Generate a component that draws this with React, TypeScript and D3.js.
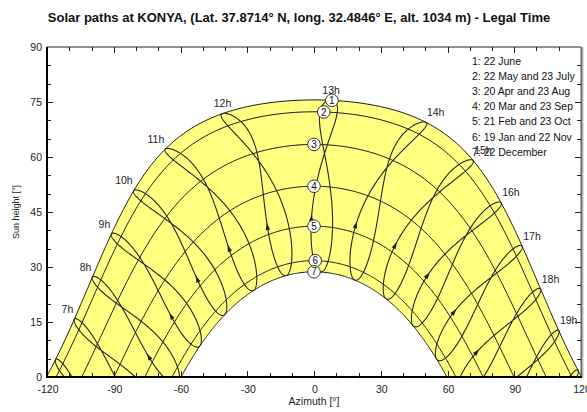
import { useRef, useEffect, useCallback } from 'react';
import * as d3 from 'd3';

// Site (from the title)
const SITE_LAT = 37.8714;
const SITE_LON = 32.4846;
const TIME_ZONE = 3; // legal time, UTC+3

const pathLabels = [
  '1: 22 June',
  '2: 22 May and 23 July',
  '3: 20 Apr and 23 Aug',
  '4: 20 Mar and 23 Sep',
  '5: 21 Feb and 23 Oct',
  '6: 19 Jan and 22 Nov',
  '7: 22 December',
];
// solar declination of each legend date pair [deg]
const pathDeclinations = [23.44, 20.2, 11.3, -0.1, -11.0, -20.4, -23.44];
// azimuth where the numbered marker sits on each path [deg]
const markerAzimuths = [7, 5, 0.6, 0.3, 0.1, 0.3, 0];

const hourLines = [6, 7, 8, 9, 10, 11, 12, 13, 14, 15, 16, 17, 18, 19, 20];
const hourLabels = [7, 8, 9, 10, 11, 12, 13, 14, 15, 16, 17, 18, 19];
const azimuthTicks = [-120, -90, -60, -30, 0, 30, 60, 90, 120];
const heightTicks = [0, 15, 30, 45, 60, 75, 90];

const JUNE_DAY = 173;
const ARROW_DAY = 58;

const WIDTH = 587;
const HEIGHT = 412;
const plot = { left: 47, right: 581, top: 47, bottom: 377 };
const FONT = "'Liberation Sans', Arial, sans-serif";

const rad = Math.PI / 180;

type Pt = [number, number];

function sunPosition(decl: number, hourAngle: number): Pt {
  const p = SITE_LAT * rad;
  const d = decl * rad;
  const hr = hourAngle * rad;
  const sinh = Math.sin(p) * Math.sin(d) + Math.cos(p) * Math.cos(d) * Math.cos(hr);
  const h = Math.asin(sinh) / rad;
  const az = Math.atan2(Math.sin(hr), Math.cos(hr) * Math.sin(p) - Math.tan(d) * Math.cos(p)) / rad;
  return [az, h];
}

// declination and equation of time for a day of year
function dayParams(doy: number) {
  const g = (2 * Math.PI / 365) * (doy - 1);
  const decl =
    (0.006918 - 0.399912 * Math.cos(g) + 0.070257 * Math.sin(g) - 0.006758 * Math.cos(2 * g) +
      0.000907 * Math.sin(2 * g) - 0.002697 * Math.cos(3 * g) + 0.00148 * Math.sin(3 * g)) / rad;
  const eot =
    229.18 * (0.000075 + 0.001868 * Math.cos(g) - 0.032077 * Math.sin(g) -
      0.014615 * Math.cos(2 * g) - 0.040849 * Math.sin(2 * g));
  return { decl, eot };
}

function sunAtLegalHour(doy: number, hour: number): Pt {
  const { decl, eot } = dayParams(doy);
  const solar = hour + (SITE_LON - 15 * TIME_ZONE) / 15 + eot / 60;
  return sunPosition(decl, 15 * (solar - 12));
}

function datePath(decl: number): Pt[] {
  const h0 = Math.acos(-Math.tan(SITE_LAT * rad) * Math.tan(decl * rad)) / rad;
  return d3.range(0, 301).map((i) => sunPosition(decl, -h0 + (2 * h0 * i) / 300));
}

export default function App() {
  const svgRef = useRef<SVGSVGElement>(null);

  const render = useCallback(() => {
    const svg = d3.select(svgRef.current);
    svg.selectAll('*').remove();

    const x = d3.scaleLinear().domain([-120, 120]).range([plot.left, plot.right]);
    const y = d3.scaleLinear().domain([0, 90]).range([plot.bottom, plot.top]);
    const line = d3.line<Pt>().x((d) => x(d[0])).y((d) => y(d[1]));

    svg.append('rect').attr('width', WIDTH).attr('height', HEIGHT).attr('fill', '#fff');

    svg.append('defs')
      .append('clipPath')
      .attr('id', 'plot-clip')
      .append('rect')
      .attr('x', plot.left)
      .attr('y', plot.top)
      .attr('width', plot.right - plot.left)
      .attr('height', plot.bottom - plot.top);

    const g = svg.append('g').attr('clip-path', 'url(#plot-clip)');

    const paths = pathDeclinations.map(datePath);

    // yellow band between June and December paths
    const band = [...paths[0], ...paths[paths.length - 1].slice().reverse()];
    g.append('path').attr('d', line(band) + 'Z').attr('fill', '#ffff80').attr('stroke', 'none');

    // date paths
    paths.forEach((pts) => {
      g.append('path')
        .attr('d', line(pts))
        .attr('fill', 'none')
        .attr('stroke', '#1a1a1a')
        .attr('stroke-width', 1);
    });

    // hour lines (analemmas, legal time)
    hourLines.forEach((hour) => {
      const pts = d3.range(1, 367).map((doy) => sunAtLegalHour(doy, hour));
      pts.push(pts[0]);
      g.append('path')
        .attr('d', line(pts))
        .attr('fill', 'none')
        .attr('stroke', '#262626')
        .attr('stroke-width', 1.1);

      const a = sunAtLegalHour(ARROW_DAY, hour);
      const b = sunAtLegalHour(ARROW_DAY + 1, hour);
      if (a[1] > 1 && a[0] > -118 && a[0] < 118) {
        const ax = x(a[0]), ay = y(a[1]);
        const ang = Math.atan2(y(b[1]) - ay, x(b[0]) - ax);
        const ux = Math.cos(ang), uy = Math.sin(ang);
        const tipX = ax + ux * 3, tipY = ay + uy * 3;
        const bx = tipX - ux * 7, by = tipY - uy * 7;
        g.append('path')
          .attr('d', `M${tipX},${tipY}L${bx - uy * 2.2},${by + ux * 2.2}L${bx + uy * 2.2},${by - ux * 2.2}Z`)
          .attr('fill', '#1a1a1a');
      }
    });

    // frame
    svg.append('line').attr('x1', plot.left).attr('x2', plot.right).attr('y1', plot.top).attr('y2', plot.top)
      .attr('stroke', '#222').attr('stroke-width', 1);
    svg.append('line').attr('x1', plot.right + 0.5).attr('x2', plot.right + 0.5).attr('y1', plot.top).attr('y2', plot.bottom)
      .attr('stroke', '#666').attr('stroke-width', 2);
    svg.append('line').attr('x1', plot.right + 2).attr('x2', plot.right + 2).attr('y1', plot.top + 1).attr('y2', plot.bottom + 1)
      .attr('stroke', '#bbb').attr('stroke-width', 1);
    svg.append('line').attr('x1', plot.left).attr('x2', plot.left).attr('y1', plot.top).attr('y2', plot.bottom + 1)
      .attr('stroke', '#000').attr('stroke-width', 2);
    svg.append('line').attr('x1', plot.left - 1).attr('x2', plot.right + 1).attr('y1', plot.bottom).attr('y2', plot.bottom)
      .attr('stroke', '#000').attr('stroke-width', 2);

    // ticks
    const ticks = svg.append('g').attr('stroke', '#222').attr('stroke-width', 1);
    d3.range(-110, 120, 10).forEach((v) => {
      const len = v % 30 === 0 ? 6 : 4;
      const px = Math.round(x(v)) + 0.5;
      ticks.append('line').attr('x1', px).attr('x2', px).attr('y1', plot.bottom).attr('y2', plot.bottom - len);
      ticks.append('line').attr('x1', px).attr('x2', px).attr('y1', plot.top).attr('y2', plot.top + len);
    });
    d3.range(5, 90, 5).forEach((v) => {
      const len = v % 15 === 0 ? 6 : 4;
      const py = Math.round(y(v)) + 0.5;
      ticks.append('line').attr('x1', plot.left).attr('x2', plot.left + len).attr('y1', py).attr('y2', py);
      ticks.append('line').attr('x1', plot.right).attr('x2', plot.right - len).attr('y1', py).attr('y2', py);
    });

    // tick labels
    azimuthTicks.forEach((v) => {
      svg.append('text')
        .attr('x', x(v) + 1)
        .attr('y', 393)
        .attr('text-anchor', 'middle')
        .attr('font-family', FONT)
        .attr('font-size', '10.5px')
        .attr('fill', '#222')
        .text(String(v));
    });
    heightTicks.forEach((v) => {
      svg.append('text')
        .attr('x', 42)
        .attr('y', y(v) + 3.8)
        .attr('text-anchor', 'end')
        .attr('font-family', FONT)
        .attr('font-size', '10.5px')
        .attr('fill', '#222')
        .text(String(v));
    });

    // axis titles
    svg.append('text')
      .attr('x', 314)
      .attr('y', 405)
      .attr('text-anchor', 'middle')
      .attr('font-family', FONT)
      .attr('font-size', '10.5px')
      .attr('fill', '#222')
      .text('Azimuth [°]');
    svg.append('text')
      .attr('transform', 'translate(19,212) rotate(-90)')
      .attr('text-anchor', 'middle')
      .attr('font-family', FONT)
      .attr('font-size', '9px')
      .attr('fill', '#222')
      .text('Sun height [°]');

    // title
    svg.append('text')
      .attr('x', 299)
      .attr('y', 22)
      .attr('text-anchor', 'middle')
      .attr('font-family', FONT)
      .attr('font-size', '13px')
      .attr('font-weight', 'bold')
      .attr('fill', '#111')
      .text('Solar paths at KONYA, (Lat. 37.8714° N, long. 32.4846° E, alt. 1034 m) - Legal Time');

    // hour labels at the June end of each hour line
    hourLabels.forEach((hour) => {
      const p = sunAtLegalHour(JUNE_DAY, hour);
      const px = x(p[0]);
      const py = y(p[1]);
      const anchor = hour < 12 ? 'end' : hour > 13 ? 'start' : 'middle';
      const dx = hour < 12 ? -1 : hour > 13 ? 1 : 0;
      svg.append('text')
        .attr('x', px + dx)
        .attr('y', py - 6.5)
        .attr('text-anchor', anchor)
        .attr('font-family', FONT)
        .attr('font-size', '10.5px')
        .attr('fill', '#222')
        .text(`${hour}h`);
    });

    // numbered markers
    paths.forEach((pts, i) => {
      const target = markerAzimuths[i];
      const p = pts.reduce((best, q) => (Math.abs(q[0] - target) < Math.abs(best[0] - target) ? q : best), pts[0]);
      const m = svg.append('g').attr('transform', `translate(${x(p[0])},${y(p[1])})`);
      m.append('circle').attr('r', 6.3).attr('fill', '#fff').attr('stroke', '#333').attr('stroke-width', 1);
      m.append('text')
        .attr('y', 3.6)
        .attr('text-anchor', 'middle')
        .attr('font-family', FONT)
        .attr('font-size', '10px')
        .attr('fill', '#111')
        .text(String(i + 1));
    });

    // legend
    pathLabels.forEach((label, i) => {
      svg.append('text')
        .attr('x', 472)
        .attr('y', 64.5 + i * 15.2)
        .attr('font-family', FONT)
        .attr('font-size', '10.5px')
        .attr('fill', '#111')
        .text(label);
    });
  }, []);

  useEffect(() => {
    render();
  }, [render]);

  return (
    <svg
      ref={svgRef}
      width={WIDTH}
      height={HEIGHT}
      viewBox={`0 0 ${WIDTH} ${HEIGHT}`}
      style={{ position: 'absolute', left: 0, top: 0, display: 'block' }}
    />
  );
}
